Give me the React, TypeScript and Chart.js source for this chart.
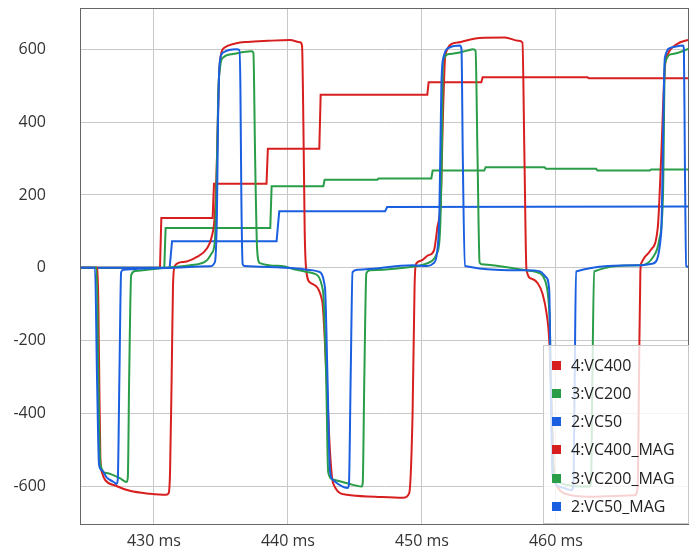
import { useEffect, useRef } from "react";
import { Chart, registerables } from "chart.js";

Chart.register(...registerables);

// ---- data (time in ms, value) ----
const xMin = 424.48;
const xMax = 469.93;
const yMin = -703;
const yMax = 713;
const xTickValues = [430, 440, 450, 460];
const yTickValues = [-600, -400, -200, 0, 200, 400, 600];

const seriesLabels = ["4:VC400", "3:VC200", "2:VC50", "4:VC400_MAG", "3:VC200_MAG", "2:VC50_MAG"];
const seriesColors = ["#d81f1f", "#2a9d48", "#1a5fe0", "#d81f1f", "#2a9d48", "#1a5fe0"];

const vc400: [number, number][] = [
  [424.48, 0], [425.8, 0], [425.9, -250], [426.0, -520], [426.15, -565], [426.35, -582], [427.15, -598],
  [428.2, -612], [429.7, -620], [430.9, -623], [431.1, -618], [431.2, -560], [431.32, -300], [431.42, -50],
  [431.55, 5], [432.2, 16], [433.2, 30], [433.95, 53], [434.3, 84], [434.55, 150], [434.7, 300], [434.85, 520],
  [435.0, 585], [435.3, 605], [436.0, 615], [437.0, 620], [438.5, 623], [440.15, 625], [440.9, 619],
  [441.05, 610], [441.15, 400], [441.25, 100], [441.35, 0], [441.65, -40], [442.55, -90], [442.9, -317],
  [443.13, -500], [443.36, -590], [444.4, -623], [446.5, -628], [448.6, -631], [449.05, -618], [449.3, -400],
  [449.45, -50], [449.55, 10], [449.95, 20], [450.45, 34], [450.9, 48], [451.15, 111], [451.4, 185],
  [451.6, 459], [451.75, 587], [452.6, 618], [454.3, 631], [456.2, 632], [457.2, 623], [457.5, 618],
  [457.65, 300], [457.8, -5], [458.2, -30], [458.65, -43], [459.0, -71], [459.3, -125], [459.5, -199],
  [459.7, -400], [459.85, -560], [460.1, -600], [460.7, -620], [462.5, -628], [465.9, -624], [466.1, -600],
  [466.2, -300], [466.3, -10], [466.4, 15], [466.6, 28], [467.06, 48], [467.6, 111], [467.85, 300],
  [468.13, 550], [468.36, 587], [469.03, 614], [469.93, 626],
];

const vc200: [number, number][] = [
  [424.48, 0], [425.72, 0], [425.85, -300], [426.0, -540], [426.45, -563], [427.45, -577], [427.95, -588],
  [428.05, -575], [428.15, -300], [428.3, -20], [428.6, -9], [429.5, -5], [430.5, -1], [432.7, 7],
  [433.93, 20], [434.31, 40], [434.55, 75], [434.68, 250], [434.8, 480], [434.95, 555], [435.16, 577],
  [435.9, 587], [437.29, 594], [437.42, 590], [437.55, 300], [437.7, 50], [437.9, 13], [439.5, 5],
  [440.65, -5], [441.87, -15], [442.61, -62], [442.85, -300], [443.0, -560], [443.3, -580], [444.5, -592],
  [445.5, -600], [445.58, -590], [445.7, -300], [445.85, -15], [446.1, -7], [449.3, 3], [450.37, 12],
  [451.12, 40], [451.34, 94], [451.48, 300], [451.57, 568], [452.09, 587], [453.36, 596], [453.81, 600],
  [454.0, 596], [454.15, 300], [454.3, 15], [454.45, 10], [457.8, -7], [458.55, -12], [459.18, -34],
  [459.42, -80], [459.55, -162], [459.7, -450], [459.85, -570], [460.1, -588], [462.5, -600], [462.62, -590],
  [462.72, -300], [462.85, -10], [466.27, 7], [467.24, 29], [467.7, 75], [467.99, 200], [468.13, 560],
  [468.73, 587], [469.93, 601],
];

const vc50: [number, number][] = [
  [424.48, 0], [425.6, 0], [425.75, -300], [425.9, -540], [426.1, -555], [426.47, -575], [426.96, -587],
  [427.21, -593], [427.3, -580], [427.42, -300], [427.55, -12], [427.7, -5], [430.0, -1], [434.18, 4],
  [434.55, 16], [434.7, 150], [434.78, 400], [434.9, 560], [435.17, 591], [436.17, 600], [436.37, 598],
  [436.45, 500], [436.52, 200], [436.62, 10], [436.75, 5], [440.65, -2], [441.87, -7], [442.24, -10],
  [442.76, -53], [442.95, -300], [443.13, -555], [443.36, -582], [444.45, -604], [444.55, -595],
  [444.68, -300], [444.82, -12], [445.22, -5], [449.3, 7], [450.4, 5], [450.85, 12], [451.12, 40],
  [451.3, 150], [451.45, 500], [451.6, 577], [452.09, 605], [452.84, 610], [452.95, 600], [453.05, 300],
  [453.2, 5], [457.8, -7], [458.81, -10], [459.25, -25], [459.5, -62], [459.6, -300], [459.72, -550],
  [459.8, -580], [460.5, -603], [461.16, -610], [461.3, -600], [461.4, -300], [461.5, -10], [466.27, 7],
  [467.24, 12], [467.85, 94], [468.13, 577], [468.66, 605], [469.48, 610], [469.55, 600], [469.62, 300],
  [469.72, 5], [469.93, 2],
];

const vc400Mag: [number, number][] = [
  [424.48, 0], [430.45, 0], [430.55, 137], [434.38, 137], [434.48, 231], [438.4, 231], [438.5, 327],
  [442.34, 327], [442.44, 475], [450.4, 475], [450.5, 509], [454.43, 509], [454.53, 523], [462.35, 523],
  [462.45, 520], [469.93, 520],
];

const vc200Mag: [number, number][] = [
  [424.48, 0], [430.77, 0], [430.87, 109], [438.68, 109], [438.78, 224], [442.64, 224], [442.74, 242],
  [446.67, 242], [446.77, 245], [450.7, 245], [450.8, 267], [454.65, 267], [454.75, 276], [459.15, 276],
  [459.25, 272], [463.0, 272], [463.1, 267], [467.0, 267], [467.1, 270], [469.93, 270],
];

const vc50Mag: [number, number][] = [
  [424.48, 0], [431.17, 0], [431.35, 73], [439.15, 73], [439.35, 155], [447.25, 155], [447.4, 167],
  [469.93, 168],
];

const FONT = '"Open Sans", "Noto Sans", sans-serif';

const toPts = (arr: [number, number][]) => arr.map(([x, y]) => ({ x, y }));

const framePlugin = {
  id: "frame",
  afterDatasetsDraw(chart: any) {
    const { ctx, chartArea: a } = chart;
    ctx.save();
    ctx.strokeStyle = "#666";
    ctx.lineWidth = 1;
    ctx.strokeRect(Math.round(a.left) + 0.5, Math.round(a.top) + 0.5, Math.round(a.right - a.left) - 1, Math.round(a.bottom - a.top));
    ctx.restore();
  },
};

const legendPlugin = {
  id: "boxLegend",
  afterDraw(chart: any) {
    const { ctx, chartArea: a } = chart;
    const w = 146;
    const h = 179;
    const left = Math.round(a.right) - w;
    const top = Math.round(a.bottom) - h;
    ctx.save();
    ctx.fillStyle = "rgba(255,255,255,0.8)";
    ctx.fillRect(left, top, w, h);
    ctx.strokeStyle = "#c8c8c8";
    ctx.lineWidth = 1;
    ctx.strokeRect(left + 0.5, top + 0.5, w - 1, h - 1);
    ctx.font = `16px ${FONT}`;
    ctx.textBaseline = "middle";
    ctx.textAlign = "left";
    seriesLabels.forEach((label, i) => {
      const cy = top + 20 + i * 28.3;
      ctx.fillStyle = seriesColors[i];
      ctx.fillRect(left + 9, Math.round(cy - 4.5), 9, 9);
      ctx.fillStyle = "#222";
      ctx.fillText(label, left + 28, cy + 1);
    });
    ctx.restore();
  },
};

export default function App() {
  const ref = useRef<HTMLCanvasElement>(null);
  useEffect(() => {
    const seriesData = [vc400, vc200, vc50, vc400Mag, vc200Mag, vc50Mag];
    const drawOrder = [2, 1, 0, 5, 4, 3];
    const datasets = drawOrder.map((i) => ({
      label: seriesLabels[i],
      data: toPts(seriesData[i]),
      borderColor: seriesColors[i],
      backgroundColor: seriesColors[i],
      borderWidth: 2,
      pointRadius: 0,
      fill: false,
      tension: 0,
      cubicInterpolationMode: i < 3 ? ("monotone" as const) : ("default" as const),
    }));
    const chart = new Chart(ref.current!, {
      type: "line",
      data: { datasets },
      options: {
        animation: false,
        responsive: false,
        parsing: false,
        normalized: true,
        layout: { padding: { left: 0, top: 8, right: 9, bottom: 0 } },
        plugins: { legend: { display: false }, tooltip: { enabled: false } },
        scales: {
          x: {
            type: "linear",
            min: xMin,
            max: xMax,
            afterBuildTicks: (s: any) => {
              s.ticks = xTickValues.map((v) => ({ value: v }));
            },
            afterFit: (s: any) => {
              s.height = 27;
              s.paddingLeft = 0;
              s.paddingRight = 0;
            },
            grid: { color: "#c8c8c8", lineWidth: 1, drawTicks: false },
            border: { display: false },
            ticks: {
              padding: 8,
              color: "#333",
              font: { family: FONT, size: 16 },
              maxRotation: 0,
              autoSkip: false,
              callback: (v: any) => `${v} ms`,
            },
          },
          y: {
            type: "linear",
            min: yMin,
            max: yMax,
            afterBuildTicks: (s: any) => {
              s.ticks = yTickValues.map((v) => ({ value: v }));
            },
            afterFit: (s: any) => {
              s.width = 80;
              s.paddingTop = 0;
              s.paddingBottom = 0;
            },
            grid: { color: "#c8c8c8", lineWidth: 1, drawTicks: false },
            border: { display: false },
            ticks: {
              padding: 34,
              color: "#333",
              font: { family: FONT, size: 16 },
              autoSkip: false,
              callback: (v: any) => `${v}`,
            },
          },
        },
      },
      plugins: [framePlugin, legendPlugin],
    });
    return () => chart.destroy();
  }, []);
  return (
    <div style={{ position: "fixed", left: 0, top: 0, width: 698, height: 551, background: "#fff" }}>
      <canvas ref={ref} width={698} height={551} style={{ display: "block" }} />
    </div>
  );
}
